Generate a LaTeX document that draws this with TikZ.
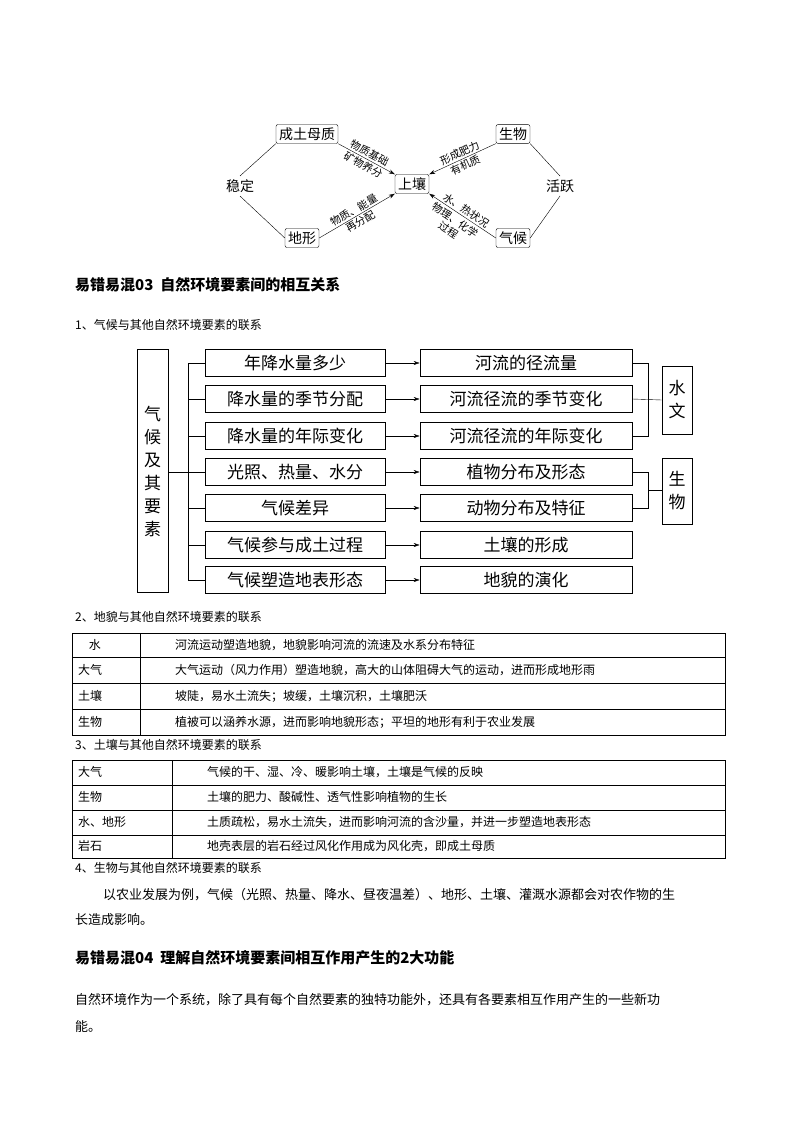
\documentclass[tikz,border=0pt]{standalone}
\usepackage{fontspec}
\setmainfont{Noto Sans CJK SC}
\usetikzlibrary{arrows.meta}
\begin{document}
\begin{tikzpicture}[x=1pt,y=-1pt,
  rbox/.style={draw,rounded corners=2pt,inner sep=3pt,font=\fontsize{14}{14}\selectfont},
  lab/.style={font=\fontsize{10.5}{10.5}\selectfont,inner sep=1.5pt},
  fbox/.style={draw,thick,minimum height=27pt,font=\fontsize{17}{17}\selectfont,inner sep=0pt},
  arr/.style={-{Stealth[length=6pt,width=4pt]}},
  txt/.style={anchor=west,inner sep=0pt,font=\fontsize{12}{12}\selectfont},
  head/.style={anchor=west,inner sep=0pt,font=\fontsize{15}{15}\selectfont\bfseries}]
\useasboundingbox (0,0) rectangle (800,1132);
% top diagram
\node[rbox] (cm) at (307,134) {成土母质};
\node[rbox] (sw) at (513,134) {生物};
\node[rbox] (tr) at (412,184) {上壤};
\node[rbox] (dx) at (302,238) {地形};
\node[rbox] (qh) at (513,238) {气候};
\node[font=\fontsize{14}{14}\selectfont] (wd) at (240,186) {稳定};
\node[font=\fontsize{14}{14}\selectfont] (hy) at (560,186) {活跃};
\draw (cm.south west) -- (wd.north);
\draw (wd.south) -- (dx.west);
\draw (sw.south east) -- (hy.north);
\draw (hy.south) -- (qh.east);
\draw[arr] (cm.south east) -- node[lab,sloped,above]{物质基础} node[lab,sloped,below]{矿物养分} (tr.north west);
\draw[arr] (dx.east) -- node[lab,sloped,above]{物质、能量} node[lab,sloped,below]{再分配} (tr.south west);
\draw[arr] (sw.south west) -- node[lab,sloped,above]{形成肥力} node[lab,sloped,below]{有机质} (tr.north east);
\draw[arr] (qh.west) -- node[lab,sloped,above,pos=.5]{水、热状况} node[lab,sloped,below=1pt,pos=.55,align=center,font=\fontsize{10.5}{12}\selectfont]{物理、化学\\过程} (tr.south east);
% section 03
\node[head] (h3) at (75,285) {易错易混03\ \ 自然环境要素间的相互关系};
\node[txt] (s1) at (75,325) {1、气候与其他自然环境要素的联系};
\node[draw,thick,minimum width=31pt,minimum height=243pt,align=center,font=\fontsize{17}{23}\selectfont] (big) at (152.5,471) {气\\候\\及\\其\\要\\素};
\coordinate (tk) at (188,472);
\draw (big.east |- tk) -- (tk);
\draw (188,363) -- (188,580);
\foreach \i/\y/\a/\b in {1/363/年降水量多少/河流的径流量,2/399/降水量的季节分配/河流径流的季节变化,3/436/降水量的年际变化/河流径流的年际变化,4/472/光照、热量、水分/植物分布及形态,5/508/气候差异/动物分布及特征,6/545/气候参与成土过程/土壤的形成,7/580/气候塑造地表形态/地貌的演化}{
  \node[fbox,minimum width=180pt] (L\i) at (295,\y) {\a};
  \node[fbox,minimum width=212pt] (R\i) at (526,\y) {\b};
  \coordinate (T\i) at (188,\y);
  \draw (T\i) -- (L\i.west);
  \draw[arr] (L\i.east) -- (R\i.west);
}
\node[fbox,minimum width=30pt,minimum height=68pt,align=center,font=\fontsize{17}{23}\selectfont] (sy) at (677,400) {水\\文};
\node[fbox,minimum width=30pt,minimum height=66pt,align=center,font=\fontsize{17}{23}\selectfont] (swb) at (677,491) {生\\物};
\draw (R1.east) -| (648,436) -- (R3.east);
\draw (R2.east) -- (sy.west);
\draw (R4.east) -| (648,508) -- (R5.east);
\draw (648,490) -- (swb.west |- 0,490);
% table 2
\node[txt] (s2) at (75,617) {2、地貌与其他自然环境要素的联系};
\draw (72,633) rectangle (725,735);
\foreach \y in {657,683,709} \draw (72,\y) -- (725,\y);
\draw (140,633) -- (140,735);
\foreach \y/\a/\b in {645/\ \ \ \ 水/河流运动塑造地貌，地貌影响河流的流速及水系分布特征,670/大气/大气运动（风力作用）塑造地貌，高大的山体阻碍大气的运动，进而形成地形雨,696/土壤/坡陡，易水土流失；坡缓，土壤沉积，土壤肥沃,722/生物/植被可以涵养水源，进而影响地貌形态；平坦的地形有利于农业发展}{
  \node[txt] at (78,\y) {\a};
  \node[txt] at (175,\y) {\b};
}
% table 3
\node[txt] (s3) at (75,745) {3、土壤与其他自然环境要素的联系};
\draw (72,760) rectangle (725,858);
\foreach \y in {785,810,835} \draw (72,\y) -- (725,\y);
\draw (172,760) -- (172,858);
\foreach \y/\a/\b in {772/大气/气候的干、湿、冷、暖影响土壤，土壤是气候的反映,797/生物/土壤的肥力、酸碱性、透气性影响植物的生长,822/水、地形/土质疏松，易水土流失，进而影响河流的含沙量，并进一步塑造地表形态,846/岩石/地壳表层的岩石经过风化作用成为风化壳，即成土母质}{
  \node[txt] at (78,\y) {\a};
  \node[txt] at (207,\y) {\b};
}
\node[txt] (s4) at (75,868) {4、生物与其他自然环境要素的联系};
\node[txt,font=\fontsize{13}{13}\selectfont] (p1) at (103,895) {以农业发展为例，气候（光照、热量、降水、昼夜温差）、地形、土壤、灌溉水源都会对农作物的生};
\node[txt,font=\fontsize{13}{13}\selectfont] (p2) at (75,920) {长造成影响。};
\node[head] (h4) at (75,958) {易错易混04\ \ 理解自然环境要素间相互作用产生的2大功能};
\node[txt,font=\fontsize{13}{13}\selectfont] (p3) at (75,1000) {自然环境作为一个系统，除了具有每个自然要素的独特功能外，还具有各要素相互作用产生的一些新功};
\node[txt,font=\fontsize{13}{13}\selectfont] (p4) at (75,1027) {能。};
\end{tikzpicture}
\end{document}
